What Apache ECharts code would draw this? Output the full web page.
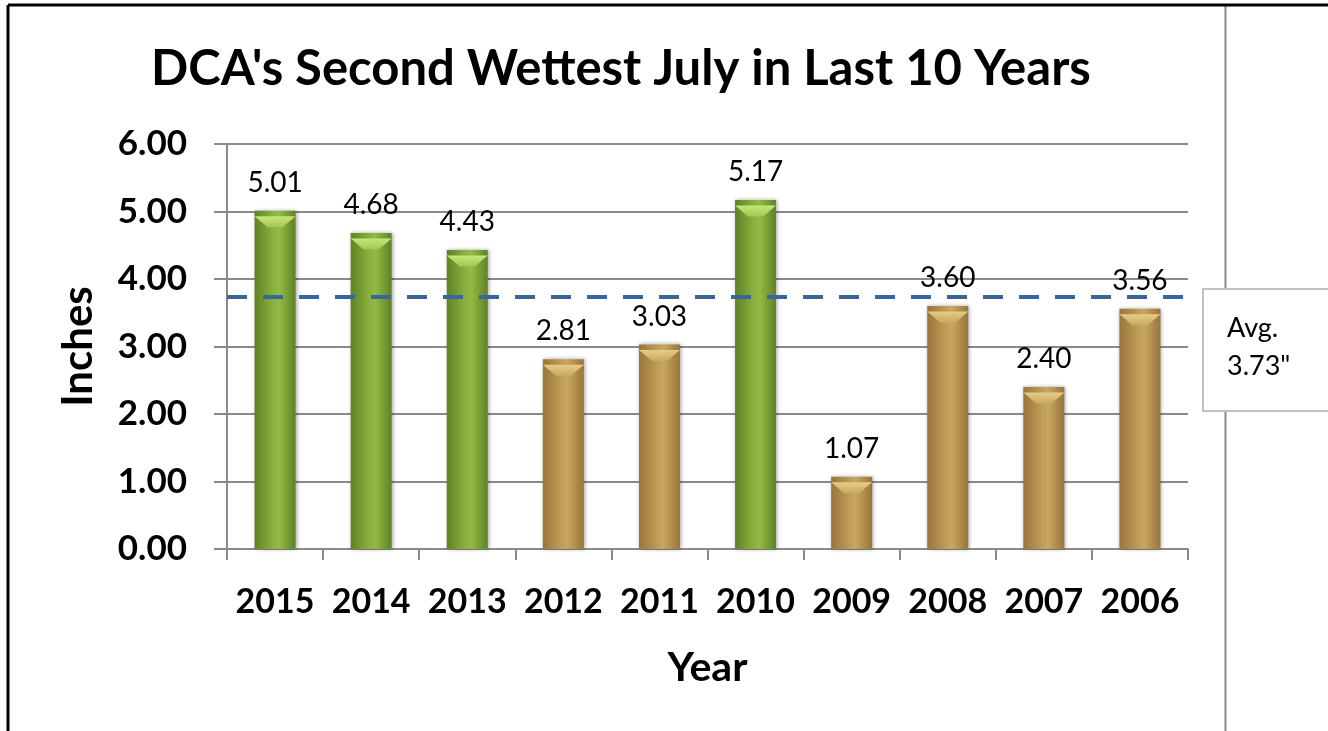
<!DOCTYPE html>
<html>
<head>
<meta charset="utf-8">
<script src="https://cdn.jsdelivr.net/npm/echarts@6/dist/echarts.min.js"></script>
<style>html,body{margin:0;padding:0;background:#fff;}#c{width:1328px;height:731px;}</style>
</head>
<body>
<div id="c"></div>
<script>
const years = ['2015','2014','2013','2012','2011','2010','2009','2008','2007','2006'];
const inches = [5.01, 4.68, 4.43, 2.81, 3.03, 5.17, 1.07, 3.60, 2.40, 3.56];
const avgValue = 3.73;
const yTicks = [0, 1, 2, 3, 4, 5, 6];
const titleText = "DCA's Second Wettest July in Last 10 Years";
const avgText = ['Avg.', '3.73"'];

const FONT = 'Lato';
function grad(edge, mid, light) {
  return {
    type: 'linear', x: 0, y: 0, x2: 1, y2: 0,
    colorStops: [
      {offset: 0, color: edge},
      {offset: 0.45, color: mid},
      {offset: 0.6, color: light},
      {offset: 1, color: edge}
    ]
  };
}
function bevel(top, bottom) {
  return {type: 'linear', x: 0, y: 0, x2: 0, y2: 1,
    colorStops: [{offset: 0, color: top}, {offset: 1, color: bottom}]};
}
const greenFill = grad('#5f8225', '#8ab13e', '#93ba46');
const tanFill = grad('#98753a', '#c09c58', '#c8a660');
const greenBevel = bevel('#c6e679', '#a2c750');
const tanBevel = bevel('#e6cc88', '#c9a862');

const chart = echarts.init(document.getElementById('c'));
chart.setOption({
  animation: false,
  backgroundColor: '#ffffff',
  title: {
    text: titleText,
    left: 616, top: 40, textAlign: 'center',
    textStyle: {fontFamily: FONT, fontWeight: 'bold', fontSize: 49, color: '#000'}
  },
  grid: {left: 227, right: 140, top: 144, bottom: 182},
  xAxis: {
    type: 'category',
    data: years,
    name: 'Year',
    nameLocation: 'middle',
    nameGap: 98,
    nameTextStyle: {fontFamily: FONT, fontWeight: 'bold', fontSize: 41, color: '#000'},
    axisLine: {lineStyle: {color: '#8a8a8a', width: 2}},
    axisTick: {show: true, length: 11, lineStyle: {color: '#8a8a8a', width: 2}},
    axisLabel: {interval: 0, fontFamily: FONT, fontWeight: 'bold', fontSize: 34, color: '#000', margin: 36}
  },
  yAxis: {
    type: 'value',
    min: yTicks[0], max: yTicks[yTicks.length - 1], interval: 1,
    name: 'Inches',
    nameLocation: 'middle',
    nameGap: 128,
    nameTextStyle: {fontFamily: FONT, fontWeight: 'bold', fontSize: 42, color: '#000'},
    axisLine: {show: true, lineStyle: {color: '#8a8a8a', width: 2}},
    axisTick: {show: true, length: 13, lineStyle: {color: '#8a8a8a', width: 2}},
    axisLabel: {fontFamily: FONT, fontWeight: 'bold', fontSize: 35, color: '#000', margin: 40,
      formatter: v => v.toFixed(2)},
    splitLine: {lineStyle: {color: '#8a8a8a', width: 2}}
  },
  series: [{
    type: 'bar',
    data: inches.map(v => ({value: v, itemStyle: {color: v > avgValue ? greenFill : tanFill}})),
    barWidth: 41,
    itemStyle: {shadowBlur: 4, shadowColor: 'rgba(0,0,0,0.35)', shadowOffsetX: 1, shadowOffsetY: 0},
    label: {show: true, position: 'top', distance: 14, fontFamily: FONT, fontSize: 28, color: '#000',
      formatter: p => p.value.toFixed(2)},
    markLine: {
      silent: true, symbol: 'none',
      label: {show: false},
      lineStyle: {color: '#3a64a0', width: 4, type: [20, 16]},
      data: [{yAxis: avgValue}]
    },
    z: 2
  }, {
    type: 'pictorialBar',
    data: inches.map(v => ({value: v, itemStyle: {color: v > avgValue ? greenBevel : tanBevel}})),
    symbol: 'path://M0,0 L41,0 L28,11 L13,11 Z',
    symbolSize: [41, 11],
    symbolPosition: 'end',
    symbolOffset: [0, '50%'],
    silent: true,
    z: 3
  }],
  graphic: [
    {type: 'line', shape: {x1: 8, y1: 5, x2: 1328, y2: 5}, style: {stroke: '#000', lineWidth: 3}, z: 10},
    {type: 'line', shape: {x1: 8, y1: 5, x2: 8, y2: 731}, style: {stroke: '#000', lineWidth: 3}, z: 10},
    {type: 'line', shape: {x1: 1225.5, y1: 6, x2: 1225.5, y2: 731}, style: {stroke: '#8a8a8a', lineWidth: 2}, z: 1},
    {type: 'rect', shape: {x: 1203, y: 289, width: 140, height: 122},
      style: {fill: '#fff', stroke: '#c0c0c0', lineWidth: 2}, z: 11},
    {type: 'text', left: 1227, top: 309,
      style: {text: avgText.join('\n'), fontFamily: FONT, fontSize: 27, lineHeight: 38, fill: '#000'}, z: 12}
  ]
});
</script>
</body>
</html>
